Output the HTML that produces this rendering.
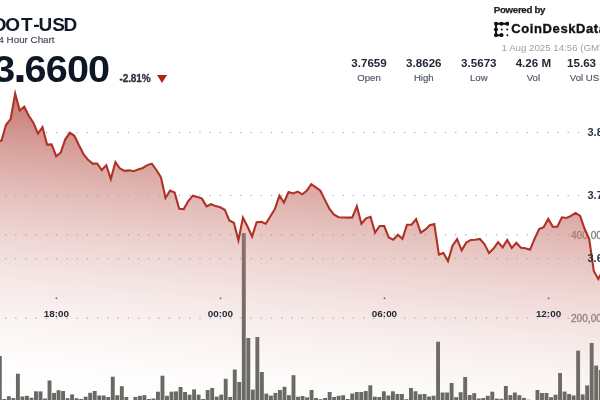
<!DOCTYPE html>
<html><head><meta charset="utf-8">
<style>
html,body{margin:0;padding:0;background:#fff;}
body{width:600px;height:400px;overflow:hidden;position:relative;font-family:"Liberation Sans",Arial,sans-serif;}
.t{position:absolute;white-space:nowrap;line-height:1;}
#sym{left:-10px;top:17.5px;font-size:17.6px;font-weight:bold;color:#111827;letter-spacing:1.05px;}
#sub{left:-7px;top:35px;font-size:9.8px;color:#414959;-webkit-text-stroke:0.15px #414959;}
#price{left:-13px;top:50px;font-size:36px;font-weight:bold;color:#0f1626;}
#chg{left:119.5px;top:73.5px;font-size:10px;font-weight:bold;color:#2b3240;-webkit-text-stroke:0.3px #2b3240;letter-spacing:-0.1px;}
#tri{position:absolute;left:157px;top:74.5px;width:0;height:0;border-left:5.6px solid transparent;border-right:5.6px solid transparent;border-top:8.6px solid #b0211a;}
#pow{left:493.8px;top:5.4px;font-size:9.7px;font-weight:bold;color:#222;letter-spacing:-0.3px;-webkit-text-stroke:0.25px #222;}
#cdd{left:511.3px;top:21.5px;font-size:13px;font-weight:bold;color:#111;letter-spacing:0.6px;-webkit-text-stroke:0.35px #111;}
#date{left:501.6px;top:43.1px;font-size:9.75px;color:#a0a0a0;letter-spacing:-0.03px;}
.sv{position:absolute;top:56.3px;font-size:11.6px;font-weight:bold;color:#1e2533;text-align:center;width:60px;margin-left:-30px;}
.sl{position:absolute;top:72.1px;font-size:9.6px;color:#4d5564;-webkit-text-stroke:0.15px #4d5564;text-align:center;width:60px;margin-left:-30px;}
svg{position:absolute;left:0;top:0;}
.ax{font-family:"Liberation Sans",Arial,sans-serif;font-size:11px;font-weight:bold;fill:#2a3242;}
.vx{font-family:"Liberation Sans",Arial,sans-serif;font-size:10.1px;fill:#85827f;stroke:#85827f;stroke-width:0.3px;}
.tx{font-family:"Liberation Sans",Arial,sans-serif;font-size:9.9px;font-weight:bold;fill:#232b3a;}
</style></head><body>
<svg width="600" height="400" viewBox="0 0 600 400">
<defs><linearGradient id="g" gradientUnits="userSpaceOnUse" x1="102.0" y1="85.0" x2="68.83" y2="416.68"><stop offset="0.0000" stop-color="#c87b74" stop-opacity="1.000"/><stop offset="0.0714" stop-color="#c87b74" stop-opacity="0.990"/><stop offset="0.1429" stop-color="#c87b74" stop-opacity="0.844"/><stop offset="0.2143" stop-color="#c87b74" stop-opacity="0.709"/><stop offset="0.2857" stop-color="#c87b74" stop-opacity="0.586"/><stop offset="0.3571" stop-color="#c87b74" stop-opacity="0.475"/><stop offset="0.4286" stop-color="#c87b74" stop-opacity="0.375"/><stop offset="0.5000" stop-color="#c87b74" stop-opacity="0.287"/><stop offset="0.5714" stop-color="#c87b74" stop-opacity="0.211"/><stop offset="0.6429" stop-color="#c87b74" stop-opacity="0.147"/><stop offset="0.7143" stop-color="#c87b74" stop-opacity="0.094"/><stop offset="0.7857" stop-color="#c87b74" stop-opacity="0.053"/><stop offset="0.8571" stop-color="#c87b74" stop-opacity="0.023"/><stop offset="0.9286" stop-color="#c87b74" stop-opacity="0.006"/><stop offset="1.0000" stop-color="#c87b74" stop-opacity="0.000"/></linearGradient></defs>
<g fill="#a9aaa8"><rect x="5.00" y="234.20" width="1.2" height="1.2"/><rect x="15.23" y="234.20" width="1.2" height="1.2"/><rect x="25.46" y="234.20" width="1.2" height="1.2"/><rect x="35.69" y="234.20" width="1.2" height="1.2"/><rect x="45.92" y="234.20" width="1.2" height="1.2"/><rect x="56.15" y="234.20" width="1.2" height="1.2"/><rect x="66.38" y="234.20" width="1.2" height="1.2"/><rect x="76.61" y="234.20" width="1.2" height="1.2"/><rect x="86.84" y="234.20" width="1.2" height="1.2"/><rect x="97.07" y="234.20" width="1.2" height="1.2"/><rect x="107.30" y="234.20" width="1.2" height="1.2"/><rect x="117.53" y="234.20" width="1.2" height="1.2"/><rect x="127.76" y="234.20" width="1.2" height="1.2"/><rect x="137.99" y="234.20" width="1.2" height="1.2"/><rect x="148.22" y="234.20" width="1.2" height="1.2"/><rect x="158.45" y="234.20" width="1.2" height="1.2"/><rect x="168.68" y="234.20" width="1.2" height="1.2"/><rect x="178.91" y="234.20" width="1.2" height="1.2"/><rect x="189.14" y="234.20" width="1.2" height="1.2"/><rect x="199.37" y="234.20" width="1.2" height="1.2"/><rect x="209.60" y="234.20" width="1.2" height="1.2"/><rect x="219.83" y="234.20" width="1.2" height="1.2"/><rect x="230.06" y="234.20" width="1.2" height="1.2"/><rect x="240.29" y="234.20" width="1.2" height="1.2"/><rect x="250.52" y="234.20" width="1.2" height="1.2"/><rect x="260.75" y="234.20" width="1.2" height="1.2"/><rect x="270.98" y="234.20" width="1.2" height="1.2"/><rect x="281.21" y="234.20" width="1.2" height="1.2"/><rect x="291.44" y="234.20" width="1.2" height="1.2"/><rect x="301.67" y="234.20" width="1.2" height="1.2"/><rect x="311.90" y="234.20" width="1.2" height="1.2"/><rect x="322.13" y="234.20" width="1.2" height="1.2"/><rect x="332.36" y="234.20" width="1.2" height="1.2"/><rect x="342.59" y="234.20" width="1.2" height="1.2"/><rect x="352.82" y="234.20" width="1.2" height="1.2"/><rect x="363.05" y="234.20" width="1.2" height="1.2"/><rect x="373.28" y="234.20" width="1.2" height="1.2"/><rect x="383.51" y="234.20" width="1.2" height="1.2"/><rect x="393.74" y="234.20" width="1.2" height="1.2"/><rect x="403.97" y="234.20" width="1.2" height="1.2"/><rect x="414.20" y="234.20" width="1.2" height="1.2"/><rect x="424.43" y="234.20" width="1.2" height="1.2"/><rect x="434.66" y="234.20" width="1.2" height="1.2"/><rect x="444.89" y="234.20" width="1.2" height="1.2"/><rect x="455.12" y="234.20" width="1.2" height="1.2"/><rect x="465.35" y="234.20" width="1.2" height="1.2"/><rect x="475.58" y="234.20" width="1.2" height="1.2"/><rect x="485.81" y="234.20" width="1.2" height="1.2"/><rect x="496.04" y="234.20" width="1.2" height="1.2"/><rect x="506.27" y="234.20" width="1.2" height="1.2"/><rect x="516.50" y="234.20" width="1.2" height="1.2"/><rect x="526.73" y="234.20" width="1.2" height="1.2"/><rect x="536.96" y="234.20" width="1.2" height="1.2"/><rect x="547.19" y="234.20" width="1.2" height="1.2"/><rect x="557.42" y="234.20" width="1.2" height="1.2"/><rect x="567.65" y="234.20" width="1.2" height="1.2"/><rect x="577.88" y="234.20" width="1.2" height="1.2"/><rect x="5.00" y="317.60" width="1.2" height="1.2"/><rect x="15.23" y="317.60" width="1.2" height="1.2"/><rect x="25.46" y="317.60" width="1.2" height="1.2"/><rect x="35.69" y="317.60" width="1.2" height="1.2"/><rect x="45.92" y="317.60" width="1.2" height="1.2"/><rect x="56.15" y="317.60" width="1.2" height="1.2"/><rect x="66.38" y="317.60" width="1.2" height="1.2"/><rect x="76.61" y="317.60" width="1.2" height="1.2"/><rect x="86.84" y="317.60" width="1.2" height="1.2"/><rect x="97.07" y="317.60" width="1.2" height="1.2"/><rect x="107.30" y="317.60" width="1.2" height="1.2"/><rect x="117.53" y="317.60" width="1.2" height="1.2"/><rect x="127.76" y="317.60" width="1.2" height="1.2"/><rect x="137.99" y="317.60" width="1.2" height="1.2"/><rect x="148.22" y="317.60" width="1.2" height="1.2"/><rect x="158.45" y="317.60" width="1.2" height="1.2"/><rect x="168.68" y="317.60" width="1.2" height="1.2"/><rect x="178.91" y="317.60" width="1.2" height="1.2"/><rect x="189.14" y="317.60" width="1.2" height="1.2"/><rect x="199.37" y="317.60" width="1.2" height="1.2"/><rect x="209.60" y="317.60" width="1.2" height="1.2"/><rect x="219.83" y="317.60" width="1.2" height="1.2"/><rect x="230.06" y="317.60" width="1.2" height="1.2"/><rect x="240.29" y="317.60" width="1.2" height="1.2"/><rect x="250.52" y="317.60" width="1.2" height="1.2"/><rect x="260.75" y="317.60" width="1.2" height="1.2"/><rect x="270.98" y="317.60" width="1.2" height="1.2"/><rect x="281.21" y="317.60" width="1.2" height="1.2"/><rect x="291.44" y="317.60" width="1.2" height="1.2"/><rect x="301.67" y="317.60" width="1.2" height="1.2"/><rect x="311.90" y="317.60" width="1.2" height="1.2"/><rect x="322.13" y="317.60" width="1.2" height="1.2"/><rect x="332.36" y="317.60" width="1.2" height="1.2"/><rect x="342.59" y="317.60" width="1.2" height="1.2"/><rect x="352.82" y="317.60" width="1.2" height="1.2"/><rect x="363.05" y="317.60" width="1.2" height="1.2"/><rect x="373.28" y="317.60" width="1.2" height="1.2"/><rect x="383.51" y="317.60" width="1.2" height="1.2"/><rect x="393.74" y="317.60" width="1.2" height="1.2"/><rect x="403.97" y="317.60" width="1.2" height="1.2"/><rect x="414.20" y="317.60" width="1.2" height="1.2"/><rect x="424.43" y="317.60" width="1.2" height="1.2"/><rect x="434.66" y="317.60" width="1.2" height="1.2"/><rect x="444.89" y="317.60" width="1.2" height="1.2"/><rect x="455.12" y="317.60" width="1.2" height="1.2"/><rect x="465.35" y="317.60" width="1.2" height="1.2"/><rect x="475.58" y="317.60" width="1.2" height="1.2"/><rect x="485.81" y="317.60" width="1.2" height="1.2"/><rect x="496.04" y="317.60" width="1.2" height="1.2"/><rect x="506.27" y="317.60" width="1.2" height="1.2"/><rect x="516.50" y="317.60" width="1.2" height="1.2"/><rect x="526.73" y="317.60" width="1.2" height="1.2"/><rect x="536.96" y="317.60" width="1.2" height="1.2"/><rect x="547.19" y="317.60" width="1.2" height="1.2"/><rect x="557.42" y="317.60" width="1.2" height="1.2"/><rect x="567.65" y="317.60" width="1.2" height="1.2"/><rect x="577.88" y="317.60" width="1.2" height="1.2"/></g>
<text class="vx" x="571" y="238.7">400,000</text>
<text class="vx" x="571" y="321.7">200,000</text>
<g fill="#656a63">
<rect x="-2.13" y="356.00" width="3.9" height="46.00"/>
<rect x="2.39" y="399.00" width="3.9" height="3.00"/>
<rect x="6.91" y="396.20" width="3.9" height="5.80"/>
<rect x="11.43" y="398.00" width="3.9" height="4.00"/>
<rect x="15.94" y="373.70" width="3.9" height="28.30"/>
<rect x="20.46" y="396.50" width="3.9" height="5.50"/>
<rect x="24.98" y="395.80" width="3.9" height="6.20"/>
<rect x="29.50" y="397.70" width="3.9" height="4.30"/>
<rect x="34.02" y="391.30" width="3.9" height="10.70"/>
<rect x="38.53" y="391.40" width="3.9" height="10.60"/>
<rect x="43.05" y="398.50" width="3.9" height="3.50"/>
<rect x="47.57" y="380.50" width="3.9" height="21.50"/>
<rect x="52.09" y="392.90" width="3.9" height="9.10"/>
<rect x="56.61" y="390.20" width="3.9" height="11.80"/>
<rect x="61.12" y="391.00" width="3.9" height="11.00"/>
<rect x="65.64" y="398.20" width="3.9" height="3.80"/>
<rect x="70.16" y="394.40" width="3.9" height="7.60"/>
<rect x="74.68" y="398.20" width="3.9" height="3.80"/>
<rect x="79.20" y="399.00" width="3.9" height="3.00"/>
<rect x="83.71" y="396.70" width="3.9" height="5.30"/>
<rect x="88.23" y="392.80" width="3.9" height="9.20"/>
<rect x="92.75" y="391.00" width="3.9" height="11.00"/>
<rect x="97.27" y="395.50" width="3.9" height="6.50"/>
<rect x="101.79" y="395.50" width="3.9" height="6.50"/>
<rect x="106.30" y="397.00" width="3.9" height="5.00"/>
<rect x="110.82" y="376.70" width="3.9" height="25.30"/>
<rect x="115.34" y="395.20" width="3.9" height="6.80"/>
<rect x="119.86" y="386.20" width="3.9" height="15.80"/>
<rect x="124.38" y="397.00" width="3.9" height="5.00"/>
<rect x="133.41" y="397.00" width="3.9" height="5.00"/>
<rect x="137.93" y="395.80" width="3.9" height="6.20"/>
<rect x="142.45" y="395.20" width="3.9" height="6.80"/>
<rect x="146.97" y="399.00" width="3.9" height="3.00"/>
<rect x="151.48" y="398.50" width="3.9" height="3.50"/>
<rect x="156.00" y="391.70" width="3.9" height="10.30"/>
<rect x="160.52" y="375.70" width="3.9" height="26.30"/>
<rect x="165.04" y="395.80" width="3.9" height="6.20"/>
<rect x="169.56" y="391.70" width="3.9" height="10.30"/>
<rect x="174.07" y="391.40" width="3.9" height="10.60"/>
<rect x="178.59" y="387.00" width="3.9" height="15.00"/>
<rect x="183.11" y="392.00" width="3.9" height="10.00"/>
<rect x="187.63" y="394.70" width="3.9" height="7.30"/>
<rect x="192.15" y="389.40" width="3.9" height="12.60"/>
<rect x="196.66" y="394.60" width="3.9" height="7.40"/>
<rect x="201.18" y="399.00" width="3.9" height="3.00"/>
<rect x="205.70" y="390.00" width="3.9" height="12.00"/>
<rect x="210.22" y="388.00" width="3.9" height="14.00"/>
<rect x="214.74" y="396.60" width="3.9" height="5.40"/>
<rect x="219.25" y="394.60" width="3.9" height="7.40"/>
<rect x="223.77" y="378.80" width="3.9" height="23.20"/>
<rect x="228.29" y="397.00" width="3.9" height="5.00"/>
<rect x="232.81" y="369.50" width="3.9" height="32.50"/>
<rect x="237.33" y="382.00" width="3.9" height="20.00"/>
<rect x="241.84" y="233.00" width="3.9" height="169.00"/>
<rect x="246.36" y="338.00" width="3.9" height="64.00"/>
<rect x="250.88" y="389.60" width="3.9" height="12.40"/>
<rect x="255.40" y="337.00" width="3.9" height="65.00"/>
<rect x="259.92" y="372.00" width="3.9" height="30.00"/>
<rect x="264.43" y="393.60" width="3.9" height="8.40"/>
<rect x="268.95" y="395.60" width="3.9" height="6.40"/>
<rect x="273.47" y="392.90" width="3.9" height="9.10"/>
<rect x="277.99" y="390.00" width="3.9" height="12.00"/>
<rect x="282.51" y="386.80" width="3.9" height="15.20"/>
<rect x="287.02" y="395.20" width="3.9" height="6.80"/>
<rect x="291.54" y="375.20" width="3.9" height="26.80"/>
<rect x="296.06" y="396.70" width="3.9" height="5.30"/>
<rect x="300.58" y="396.00" width="3.9" height="6.00"/>
<rect x="305.10" y="397.40" width="3.9" height="4.60"/>
<rect x="309.61" y="390.00" width="3.9" height="12.00"/>
<rect x="314.13" y="398.00" width="3.9" height="4.00"/>
<rect x="318.65" y="399.20" width="3.9" height="2.80"/>
<rect x="323.17" y="398.00" width="3.9" height="4.00"/>
<rect x="327.69" y="392.00" width="3.9" height="10.00"/>
<rect x="332.20" y="397.00" width="3.9" height="5.00"/>
<rect x="336.72" y="395.80" width="3.9" height="6.20"/>
<rect x="341.24" y="395.20" width="3.9" height="6.80"/>
<rect x="345.76" y="399.00" width="3.9" height="3.00"/>
<rect x="350.28" y="393.50" width="3.9" height="8.50"/>
<rect x="354.79" y="392.00" width="3.9" height="10.00"/>
<rect x="359.31" y="392.00" width="3.9" height="10.00"/>
<rect x="363.83" y="391.00" width="3.9" height="11.00"/>
<rect x="368.35" y="385.30" width="3.9" height="16.70"/>
<rect x="372.87" y="396.70" width="3.9" height="5.30"/>
<rect x="377.38" y="397.00" width="3.9" height="5.00"/>
<rect x="381.90" y="391.30" width="3.9" height="10.70"/>
<rect x="386.42" y="395.50" width="3.9" height="6.50"/>
<rect x="390.94" y="391.30" width="3.9" height="10.70"/>
<rect x="395.46" y="394.00" width="3.9" height="8.00"/>
<rect x="399.97" y="394.00" width="3.9" height="8.00"/>
<rect x="404.49" y="399.20" width="3.9" height="2.80"/>
<rect x="409.01" y="388.00" width="3.9" height="14.00"/>
<rect x="413.53" y="391.30" width="3.9" height="10.70"/>
<rect x="418.05" y="394.30" width="3.9" height="7.70"/>
<rect x="422.56" y="394.00" width="3.9" height="8.00"/>
<rect x="427.08" y="396.50" width="3.9" height="5.50"/>
<rect x="431.60" y="395.70" width="3.9" height="6.30"/>
<rect x="436.12" y="341.70" width="3.9" height="60.30"/>
<rect x="440.64" y="392.50" width="3.9" height="9.50"/>
<rect x="445.15" y="392.50" width="3.9" height="9.50"/>
<rect x="449.67" y="383.00" width="3.9" height="19.00"/>
<rect x="454.19" y="397.20" width="3.9" height="4.80"/>
<rect x="458.71" y="392.20" width="3.9" height="9.80"/>
<rect x="463.23" y="377.00" width="3.9" height="25.00"/>
<rect x="467.74" y="395.00" width="3.9" height="7.00"/>
<rect x="472.26" y="393.20" width="3.9" height="8.80"/>
<rect x="476.78" y="398.50" width="3.9" height="3.50"/>
<rect x="481.30" y="398.00" width="3.9" height="4.00"/>
<rect x="485.82" y="395.80" width="3.9" height="6.20"/>
<rect x="490.33" y="391.70" width="3.9" height="10.30"/>
<rect x="494.85" y="398.60" width="3.9" height="3.40"/>
<rect x="499.37" y="398.80" width="3.9" height="3.20"/>
<rect x="503.89" y="386.00" width="3.9" height="16.00"/>
<rect x="508.41" y="395.10" width="3.9" height="6.90"/>
<rect x="512.92" y="392.50" width="3.9" height="9.50"/>
<rect x="517.44" y="395.20" width="3.9" height="6.80"/>
<rect x="521.96" y="397.90" width="3.9" height="4.10"/>
<rect x="526.48" y="399.70" width="3.9" height="2.30"/>
<rect x="535.51" y="390.00" width="3.9" height="12.00"/>
<rect x="540.03" y="393.00" width="3.9" height="9.00"/>
<rect x="544.55" y="393.00" width="3.9" height="9.00"/>
<rect x="549.07" y="397.20" width="3.9" height="4.80"/>
<rect x="553.59" y="394.70" width="3.9" height="7.30"/>
<rect x="558.10" y="373.00" width="3.9" height="29.00"/>
<rect x="562.62" y="391.60" width="3.9" height="10.40"/>
<rect x="567.14" y="394.00" width="3.9" height="8.00"/>
<rect x="571.66" y="395.40" width="3.9" height="6.60"/>
<rect x="576.18" y="350.60" width="3.9" height="51.40"/>
<rect x="580.69" y="394.40" width="3.9" height="7.60"/>
<rect x="585.21" y="385.40" width="3.9" height="16.60"/>
<rect x="589.73" y="343.00" width="3.9" height="59.00"/>
<rect x="594.25" y="365.60" width="3.9" height="36.40"/>
<rect x="598.77" y="370.00" width="3.9" height="32.00"/>
</g>
<path d="M-3.06,141.50 L1.50,140.60 L6.06,124.80 L10.61,119.10 L15.17,93.50 L19.72,110.50 L24.28,106.73 L28.84,115.90 L33.39,122.70 L37.95,133.70 L42.50,127.21 L47.06,144.60 L51.62,144.40 L56.17,156.20 L60.73,152.60 L65.28,139.30 L69.84,132.80 L74.40,135.80 L78.95,145.20 L83.51,154.10 L88.06,159.80 L92.62,163.60 L97.18,163.60 L101.73,170.00 L106.29,165.15 L110.84,179.00 L115.40,162.09 L119.96,168.50 L124.51,170.90 L129.07,170.34 L133.62,171.20 L138.18,169.60 L142.74,168.00 L147.29,165.10 L151.85,163.69 L156.40,170.00 L160.96,177.30 L165.52,198.00 L170.07,190.56 L174.63,192.60 L179.18,208.80 L183.74,209.10 L188.30,201.00 L192.85,195.67 L197.41,197.00 L201.96,198.60 L206.52,206.40 L211.08,204.21 L215.63,206.10 L220.19,207.30 L224.74,209.70 L229.30,220.40 L233.86,222.70 L238.41,240.30 L242.97,217.70 L247.52,226.50 L252.08,236.50 L256.64,222.20 L261.19,221.86 L265.75,223.80 L270.30,216.50 L274.86,209.10 L279.42,195.61 L283.97,202.50 L288.53,192.08 L293.08,193.50 L297.64,191.62 L302.20,194.30 L306.75,190.70 L311.31,184.21 L315.86,187.30 L320.42,190.70 L324.98,200.10 L329.53,209.00 L334.09,214.70 L338.64,217.20 L343.20,217.50 L347.76,217.60 L352.31,217.40 L356.87,206.36 L361.42,223.70 L365.98,218.30 L370.54,216.74 L375.09,232.60 L379.65,226.00 L384.20,226.00 L388.76,237.50 L393.32,239.70 L397.87,234.80 L402.43,238.90 L406.98,224.69 L411.54,224.60 L416.10,219.02 L420.65,232.70 L425.21,229.70 L429.76,225.30 L434.32,224.08 L438.88,254.60 L443.43,252.95 L447.99,261.10 L452.54,245.70 L457.10,239.22 L461.66,250.40 L466.21,242.60 L470.77,239.96 L475.32,239.70 L479.88,238.93 L484.44,244.00 L488.99,253.00 L493.55,248.50 L498.10,242.14 L502.66,247.40 L507.22,240.04 L511.77,247.90 L516.33,242.85 L520.88,247.70 L525.44,248.20 L530.00,249.80 L534.55,238.90 L539.11,229.10 L543.66,227.20 L548.22,218.90 L552.78,226.60 L557.33,226.70 L561.89,217.30 L566.44,218.00 L571.00,215.90 L575.56,212.90 L580.11,216.00 L584.67,229.00 L589.22,239.00 L593.78,271.00 L598.34,279.00 L602.89,270.00 L602.89,402 L-3.06,402 Z" fill="url(#g)"/>
<g fill="#a9aaa8"><rect x="5.00" y="131.90" width="1.2" height="1.2"/><rect x="15.23" y="131.90" width="1.2" height="1.2"/><rect x="25.46" y="131.90" width="1.2" height="1.2"/><rect x="35.69" y="131.90" width="1.2" height="1.2"/><rect x="45.92" y="131.90" width="1.2" height="1.2"/><rect x="56.15" y="131.90" width="1.2" height="1.2"/><rect x="66.38" y="131.90" width="1.2" height="1.2"/><rect x="76.61" y="131.90" width="1.2" height="1.2"/><rect x="86.84" y="131.90" width="1.2" height="1.2"/><rect x="97.07" y="131.90" width="1.2" height="1.2"/><rect x="107.30" y="131.90" width="1.2" height="1.2"/><rect x="117.53" y="131.90" width="1.2" height="1.2"/><rect x="127.76" y="131.90" width="1.2" height="1.2"/><rect x="137.99" y="131.90" width="1.2" height="1.2"/><rect x="148.22" y="131.90" width="1.2" height="1.2"/><rect x="158.45" y="131.90" width="1.2" height="1.2"/><rect x="168.68" y="131.90" width="1.2" height="1.2"/><rect x="178.91" y="131.90" width="1.2" height="1.2"/><rect x="189.14" y="131.90" width="1.2" height="1.2"/><rect x="199.37" y="131.90" width="1.2" height="1.2"/><rect x="209.60" y="131.90" width="1.2" height="1.2"/><rect x="219.83" y="131.90" width="1.2" height="1.2"/><rect x="230.06" y="131.90" width="1.2" height="1.2"/><rect x="240.29" y="131.90" width="1.2" height="1.2"/><rect x="250.52" y="131.90" width="1.2" height="1.2"/><rect x="260.75" y="131.90" width="1.2" height="1.2"/><rect x="270.98" y="131.90" width="1.2" height="1.2"/><rect x="281.21" y="131.90" width="1.2" height="1.2"/><rect x="291.44" y="131.90" width="1.2" height="1.2"/><rect x="301.67" y="131.90" width="1.2" height="1.2"/><rect x="311.90" y="131.90" width="1.2" height="1.2"/><rect x="322.13" y="131.90" width="1.2" height="1.2"/><rect x="332.36" y="131.90" width="1.2" height="1.2"/><rect x="342.59" y="131.90" width="1.2" height="1.2"/><rect x="352.82" y="131.90" width="1.2" height="1.2"/><rect x="363.05" y="131.90" width="1.2" height="1.2"/><rect x="373.28" y="131.90" width="1.2" height="1.2"/><rect x="383.51" y="131.90" width="1.2" height="1.2"/><rect x="393.74" y="131.90" width="1.2" height="1.2"/><rect x="403.97" y="131.90" width="1.2" height="1.2"/><rect x="414.20" y="131.90" width="1.2" height="1.2"/><rect x="424.43" y="131.90" width="1.2" height="1.2"/><rect x="434.66" y="131.90" width="1.2" height="1.2"/><rect x="444.89" y="131.90" width="1.2" height="1.2"/><rect x="455.12" y="131.90" width="1.2" height="1.2"/><rect x="465.35" y="131.90" width="1.2" height="1.2"/><rect x="475.58" y="131.90" width="1.2" height="1.2"/><rect x="485.81" y="131.90" width="1.2" height="1.2"/><rect x="496.04" y="131.90" width="1.2" height="1.2"/><rect x="506.27" y="131.90" width="1.2" height="1.2"/><rect x="516.50" y="131.90" width="1.2" height="1.2"/><rect x="526.73" y="131.90" width="1.2" height="1.2"/><rect x="536.96" y="131.90" width="1.2" height="1.2"/><rect x="547.19" y="131.90" width="1.2" height="1.2"/><rect x="557.42" y="131.90" width="1.2" height="1.2"/><rect x="567.65" y="131.90" width="1.2" height="1.2"/><rect x="577.88" y="131.90" width="1.2" height="1.2"/><rect x="5.00" y="194.90" width="1.2" height="1.2"/><rect x="15.23" y="194.90" width="1.2" height="1.2"/><rect x="25.46" y="194.90" width="1.2" height="1.2"/><rect x="35.69" y="194.90" width="1.2" height="1.2"/><rect x="45.92" y="194.90" width="1.2" height="1.2"/><rect x="56.15" y="194.90" width="1.2" height="1.2"/><rect x="66.38" y="194.90" width="1.2" height="1.2"/><rect x="76.61" y="194.90" width="1.2" height="1.2"/><rect x="86.84" y="194.90" width="1.2" height="1.2"/><rect x="97.07" y="194.90" width="1.2" height="1.2"/><rect x="107.30" y="194.90" width="1.2" height="1.2"/><rect x="117.53" y="194.90" width="1.2" height="1.2"/><rect x="127.76" y="194.90" width="1.2" height="1.2"/><rect x="137.99" y="194.90" width="1.2" height="1.2"/><rect x="148.22" y="194.90" width="1.2" height="1.2"/><rect x="158.45" y="194.90" width="1.2" height="1.2"/><rect x="168.68" y="194.90" width="1.2" height="1.2"/><rect x="178.91" y="194.90" width="1.2" height="1.2"/><rect x="189.14" y="194.90" width="1.2" height="1.2"/><rect x="199.37" y="194.90" width="1.2" height="1.2"/><rect x="209.60" y="194.90" width="1.2" height="1.2"/><rect x="219.83" y="194.90" width="1.2" height="1.2"/><rect x="230.06" y="194.90" width="1.2" height="1.2"/><rect x="240.29" y="194.90" width="1.2" height="1.2"/><rect x="250.52" y="194.90" width="1.2" height="1.2"/><rect x="260.75" y="194.90" width="1.2" height="1.2"/><rect x="270.98" y="194.90" width="1.2" height="1.2"/><rect x="281.21" y="194.90" width="1.2" height="1.2"/><rect x="291.44" y="194.90" width="1.2" height="1.2"/><rect x="301.67" y="194.90" width="1.2" height="1.2"/><rect x="311.90" y="194.90" width="1.2" height="1.2"/><rect x="322.13" y="194.90" width="1.2" height="1.2"/><rect x="332.36" y="194.90" width="1.2" height="1.2"/><rect x="342.59" y="194.90" width="1.2" height="1.2"/><rect x="352.82" y="194.90" width="1.2" height="1.2"/><rect x="363.05" y="194.90" width="1.2" height="1.2"/><rect x="373.28" y="194.90" width="1.2" height="1.2"/><rect x="383.51" y="194.90" width="1.2" height="1.2"/><rect x="393.74" y="194.90" width="1.2" height="1.2"/><rect x="403.97" y="194.90" width="1.2" height="1.2"/><rect x="414.20" y="194.90" width="1.2" height="1.2"/><rect x="424.43" y="194.90" width="1.2" height="1.2"/><rect x="434.66" y="194.90" width="1.2" height="1.2"/><rect x="444.89" y="194.90" width="1.2" height="1.2"/><rect x="455.12" y="194.90" width="1.2" height="1.2"/><rect x="465.35" y="194.90" width="1.2" height="1.2"/><rect x="475.58" y="194.90" width="1.2" height="1.2"/><rect x="485.81" y="194.90" width="1.2" height="1.2"/><rect x="496.04" y="194.90" width="1.2" height="1.2"/><rect x="506.27" y="194.90" width="1.2" height="1.2"/><rect x="516.50" y="194.90" width="1.2" height="1.2"/><rect x="526.73" y="194.90" width="1.2" height="1.2"/><rect x="536.96" y="194.90" width="1.2" height="1.2"/><rect x="547.19" y="194.90" width="1.2" height="1.2"/><rect x="557.42" y="194.90" width="1.2" height="1.2"/><rect x="567.65" y="194.90" width="1.2" height="1.2"/><rect x="577.88" y="194.90" width="1.2" height="1.2"/><rect x="5.00" y="258.00" width="1.2" height="1.2"/><rect x="15.23" y="258.00" width="1.2" height="1.2"/><rect x="25.46" y="258.00" width="1.2" height="1.2"/><rect x="35.69" y="258.00" width="1.2" height="1.2"/><rect x="45.92" y="258.00" width="1.2" height="1.2"/><rect x="56.15" y="258.00" width="1.2" height="1.2"/><rect x="66.38" y="258.00" width="1.2" height="1.2"/><rect x="76.61" y="258.00" width="1.2" height="1.2"/><rect x="86.84" y="258.00" width="1.2" height="1.2"/><rect x="97.07" y="258.00" width="1.2" height="1.2"/><rect x="107.30" y="258.00" width="1.2" height="1.2"/><rect x="117.53" y="258.00" width="1.2" height="1.2"/><rect x="127.76" y="258.00" width="1.2" height="1.2"/><rect x="137.99" y="258.00" width="1.2" height="1.2"/><rect x="148.22" y="258.00" width="1.2" height="1.2"/><rect x="158.45" y="258.00" width="1.2" height="1.2"/><rect x="168.68" y="258.00" width="1.2" height="1.2"/><rect x="178.91" y="258.00" width="1.2" height="1.2"/><rect x="189.14" y="258.00" width="1.2" height="1.2"/><rect x="199.37" y="258.00" width="1.2" height="1.2"/><rect x="209.60" y="258.00" width="1.2" height="1.2"/><rect x="219.83" y="258.00" width="1.2" height="1.2"/><rect x="230.06" y="258.00" width="1.2" height="1.2"/><rect x="240.29" y="258.00" width="1.2" height="1.2"/><rect x="250.52" y="258.00" width="1.2" height="1.2"/><rect x="260.75" y="258.00" width="1.2" height="1.2"/><rect x="270.98" y="258.00" width="1.2" height="1.2"/><rect x="281.21" y="258.00" width="1.2" height="1.2"/><rect x="291.44" y="258.00" width="1.2" height="1.2"/><rect x="301.67" y="258.00" width="1.2" height="1.2"/><rect x="311.90" y="258.00" width="1.2" height="1.2"/><rect x="322.13" y="258.00" width="1.2" height="1.2"/><rect x="332.36" y="258.00" width="1.2" height="1.2"/><rect x="342.59" y="258.00" width="1.2" height="1.2"/><rect x="352.82" y="258.00" width="1.2" height="1.2"/><rect x="363.05" y="258.00" width="1.2" height="1.2"/><rect x="373.28" y="258.00" width="1.2" height="1.2"/><rect x="383.51" y="258.00" width="1.2" height="1.2"/><rect x="393.74" y="258.00" width="1.2" height="1.2"/><rect x="403.97" y="258.00" width="1.2" height="1.2"/><rect x="414.20" y="258.00" width="1.2" height="1.2"/><rect x="424.43" y="258.00" width="1.2" height="1.2"/><rect x="434.66" y="258.00" width="1.2" height="1.2"/><rect x="444.89" y="258.00" width="1.2" height="1.2"/><rect x="455.12" y="258.00" width="1.2" height="1.2"/><rect x="465.35" y="258.00" width="1.2" height="1.2"/><rect x="475.58" y="258.00" width="1.2" height="1.2"/><rect x="485.81" y="258.00" width="1.2" height="1.2"/><rect x="496.04" y="258.00" width="1.2" height="1.2"/><rect x="506.27" y="258.00" width="1.2" height="1.2"/><rect x="516.50" y="258.00" width="1.2" height="1.2"/><rect x="526.73" y="258.00" width="1.2" height="1.2"/><rect x="536.96" y="258.00" width="1.2" height="1.2"/><rect x="547.19" y="258.00" width="1.2" height="1.2"/><rect x="557.42" y="258.00" width="1.2" height="1.2"/><rect x="567.65" y="258.00" width="1.2" height="1.2"/><rect x="577.88" y="258.00" width="1.2" height="1.2"/></g>
<path d="M-3.06,141.50 L1.50,140.60 L6.06,124.80 L10.61,119.10 L15.17,93.50 L19.72,110.50 L24.28,106.73 L28.84,115.90 L33.39,122.70 L37.95,133.70 L42.50,127.21 L47.06,144.60 L51.62,144.40 L56.17,156.20 L60.73,152.60 L65.28,139.30 L69.84,132.80 L74.40,135.80 L78.95,145.20 L83.51,154.10 L88.06,159.80 L92.62,163.60 L97.18,163.60 L101.73,170.00 L106.29,165.15 L110.84,179.00 L115.40,162.09 L119.96,168.50 L124.51,170.90 L129.07,170.34 L133.62,171.20 L138.18,169.60 L142.74,168.00 L147.29,165.10 L151.85,163.69 L156.40,170.00 L160.96,177.30 L165.52,198.00 L170.07,190.56 L174.63,192.60 L179.18,208.80 L183.74,209.10 L188.30,201.00 L192.85,195.67 L197.41,197.00 L201.96,198.60 L206.52,206.40 L211.08,204.21 L215.63,206.10 L220.19,207.30 L224.74,209.70 L229.30,220.40 L233.86,222.70 L238.41,240.30 L242.97,217.70 L247.52,226.50 L252.08,236.50 L256.64,222.20 L261.19,221.86 L265.75,223.80 L270.30,216.50 L274.86,209.10 L279.42,195.61 L283.97,202.50 L288.53,192.08 L293.08,193.50 L297.64,191.62 L302.20,194.30 L306.75,190.70 L311.31,184.21 L315.86,187.30 L320.42,190.70 L324.98,200.10 L329.53,209.00 L334.09,214.70 L338.64,217.20 L343.20,217.50 L347.76,217.60 L352.31,217.40 L356.87,206.36 L361.42,223.70 L365.98,218.30 L370.54,216.74 L375.09,232.60 L379.65,226.00 L384.20,226.00 L388.76,237.50 L393.32,239.70 L397.87,234.80 L402.43,238.90 L406.98,224.69 L411.54,224.60 L416.10,219.02 L420.65,232.70 L425.21,229.70 L429.76,225.30 L434.32,224.08 L438.88,254.60 L443.43,252.95 L447.99,261.10 L452.54,245.70 L457.10,239.22 L461.66,250.40 L466.21,242.60 L470.77,239.96 L475.32,239.70 L479.88,238.93 L484.44,244.00 L488.99,253.00 L493.55,248.50 L498.10,242.14 L502.66,247.40 L507.22,240.04 L511.77,247.90 L516.33,242.85 L520.88,247.70 L525.44,248.20 L530.00,249.80 L534.55,238.90 L539.11,229.10 L543.66,227.20 L548.22,218.90 L552.78,226.60 L557.33,226.70 L561.89,217.30 L566.44,218.00 L571.00,215.90 L575.56,212.90 L580.11,216.00 L584.67,229.00 L589.22,239.00 L593.78,271.00 L598.34,279.00 L602.89,270.00" fill="none" stroke="#af3226" stroke-width="2.1" stroke-linejoin="miter" stroke-miterlimit="10"/>
<g fill="#3a4150"><rect x="55.67" y="297.6" width="1.6" height="1.2"/><rect x="219.69" y="297.6" width="1.6" height="1.2"/><rect x="383.70" y="297.6" width="1.6" height="1.2"/><rect x="547.72" y="297.6" width="1.6" height="1.2"/></g>
<text class="tx" x="56.47" y="317" text-anchor="middle">18:00</text>
<text class="tx" x="220.49" y="317" text-anchor="middle">00:00</text>
<text class="tx" x="384.50" y="317" text-anchor="middle">06:00</text>
<text class="tx" x="548.52" y="317" text-anchor="middle">12:00</text>
<text class="ax" x="587.5" y="136.3">3.8</text>
<text class="ax" x="587.5" y="199.3">3.7</text>
<text class="ax" x="587.5" y="262.4">3.6</text>
</svg>
<svg width="100" height="40" viewBox="0 0 100 40" style="left:0;top:0;overflow:visible"><text font-family="Liberation Sans, Arial, sans-serif" font-weight="bold" font-size="17.6" fill="#111827" transform="scale(1.08,1)" x="-6.67 4.96 19.35 30.83 35.65 48.33 58.89" y="31.4">DOT-USD</text></svg>
<div class="t" id="sub">24 Hour Chart</div>
<svg width="600" height="100" viewBox="0 0 600 100" style="left:0;top:0;overflow:visible"><g font-family="Liberation Sans, Arial, sans-serif" font-weight="bold" font-size="36" fill="#0f1626" transform="scale(1.1,1.045)"><text y="78.469"><tspan x="-6.182">3</tspan><tspan x="12.000" font-size="44">.</tspan><tspan x="22.273" letter-spacing="-0.75">6600</tspan></text></g></svg>
<div class="t" id="chg">-2.81%</div>
<div id="tri"></div>
<div class="t" id="pow">Powered by</div>
<svg width="16" height="16" viewBox="0 0 16 16" style="left:493px;top:20.7px;">
<g stroke="#111" stroke-width="1.9" stroke-linecap="round"><path d="M3,2.8 H14.25 M3,2.8 V14.25 M3,14.25 H8.5" fill="none"/></g>
<g fill="#111"><circle cx="3" cy="2.8" r="2.05"/><circle cx="8.5" cy="2.8" r="2.05"/><circle cx="14.25" cy="2.8" r="2.05"/><circle cx="3" cy="8.5" r="2.05"/><circle cx="3" cy="14.05" r="2.05"/><circle cx="8.5" cy="14.05" r="2.05"/>
<circle cx="8.75" cy="8.5" r="1.0"/><circle cx="14.25" cy="8.5" r="1.0"/><circle cx="14.4" cy="14.3" r="1.0"/></g>
</svg>
<div class="t" id="cdd">CoinDeskData</div>
<div class="t" id="date">1 Aug 2025 14:56 (GMT)</div>
<div class="sv" style="left:369px">3.7659</div><div class="sl" style="left:369px">Open</div>
<div class="sv" style="left:423.8px">3.8626</div><div class="sl" style="left:423.8px">High</div>
<div class="sv" style="left:478.8px">3.5673</div><div class="sl" style="left:478.8px">Low</div>
<div class="sv" style="left:533.4px">4.26 M</div><div class="sl" style="left:533.4px">Vol</div>
<div class="sv" style="left:588px">15.63 M</div><div class="sl" style="left:588px">Vol USD</div>
</body></html>
